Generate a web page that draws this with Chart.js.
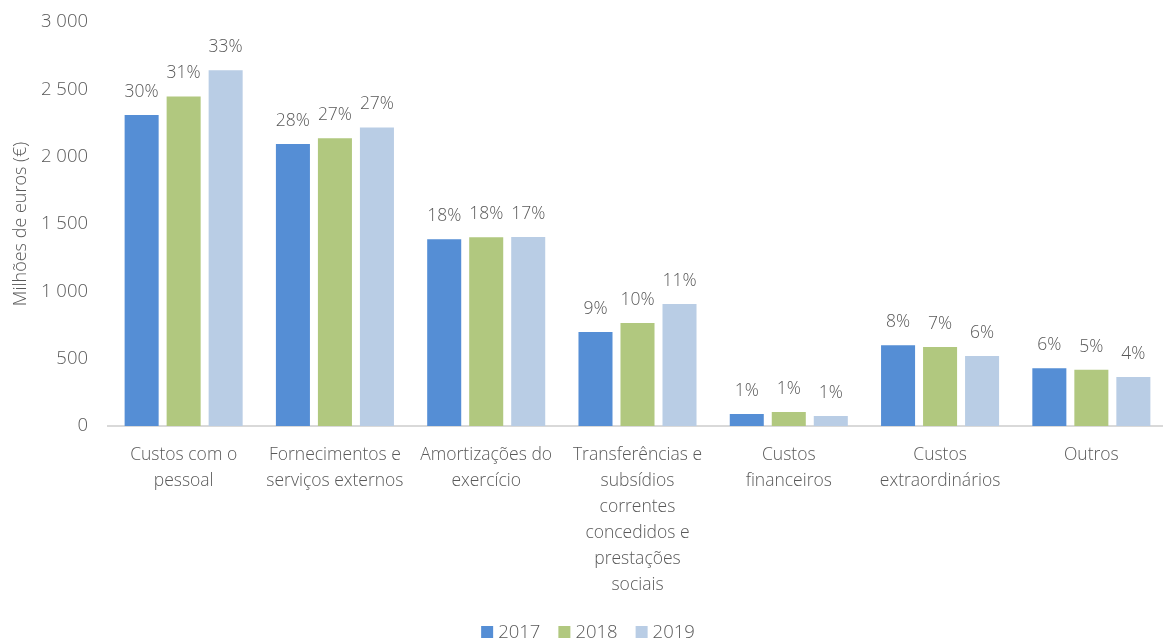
<!DOCTYPE html>
<html>
<head>
<meta charset="utf-8">
<script src="https://cdn.jsdelivr.net/npm/chart.js@4.4.1/dist/chart.umd.min.js"></script>
<style>
  html, body { margin: 0; padding: 0; background: #ffffff; overflow: hidden; }
  #wrap { position: relative; width: 1167px; height: 642px; }
</style>
</head>
<body>
<div id="wrap"><canvas id="chart" width="1167" height="642"></canvas></div>
<script>
// Categorias de custos
const categories = [
  ['Custos com o', 'pessoal'],
  ['Fornecimentos e', 'serviços externos'],
  ['Amortizações do', 'exercício'],
  ['Transferências e', 'subsídios', 'correntes', 'concedidos e', 'prestações', 'sociais'],
  ['Custos', 'financeiros'],
  ['Custos', 'extraordinários'],
  ['Outros']
];

// Valores em milhões de euros
const values2017 = [2309, 2094, 1386, 698, 89, 599, 428];
const values2018 = [2447, 2136, 1401, 765, 104, 586, 418];
const values2019 = [2641, 2217, 1403, 906, 74, 520, 364];

// Peso de cada rubrica no total do ano
const share2017 = ['30%', '28%', '18%', '9%', '1%', '8%', '6%'];
const share2018 = ['31%', '27%', '18%', '10%', '1%', '7%', '5%'];
const share2019 = ['33%', '27%', '17%', '11%', '1%', '6%', '4%'];

const yTicks = [0, 500, 1000, 1500, 2000, 2500, 3000];

const FONT = '"Open Sans", "Segoe UI", sans-serif';
const TEXT = '#595959';

// Percentagens por cima de cada barra
const shareLabels = {
  id: 'shareLabels',
  afterDatasetsDraw(chart) {
    const ctx = chart.ctx;
    ctx.save();
    ctx.font = '300 17.5px ' + FONT;
    ctx.fillStyle = TEXT;
    ctx.textAlign = 'center';
    ctx.textBaseline = 'alphabetic';
    chart.data.datasets.forEach((ds, i) => {
      const meta = chart.getDatasetMeta(i);
      meta.data.forEach((bar, j) => {
        ctx.fillText(ds.shares[j], bar.x, bar.y - 18);
      });
    });
    ctx.restore();
  }
};

// Legenda em linha no fundo
const bottomLegend = {
  id: 'bottomLegend',
  afterDraw(chart) {
    const ctx = chart.ctx;
    ctx.save();
    ctx.font = '300 18.5px ' + FONT;
    ctx.textBaseline = 'middle';
    ctx.textAlign = 'left';
    const box = 12, gapText = 5, gapItem = 18;
    const items = chart.data.datasets.map(ds => ({
      label: ds.label, color: ds.backgroundColor, w: ctx.measureText(ds.label).width
    }));
    let total = 0;
    items.forEach((it, k) => { total += box + gapText + it.w + (k < items.length - 1 ? gapItem : 0); });
    let x = 588 - total / 2;
    const y = 632;
    items.forEach(it => {
      ctx.fillStyle = it.color;
      ctx.fillRect(x, y - box / 2, box, box);
      x += box + gapText;
      ctx.fillStyle = TEXT;
      ctx.fillText(it.label, x, y + 1);
      x += it.w + gapItem;
    });
    ctx.restore();
  }
};

new Chart(document.getElementById('chart'), {
  type: 'bar',
  data: {
    labels: categories,
    datasets: [
      { label: '2017', data: values2017, shares: share2017, backgroundColor: '#558ed5' },
      { label: '2018', data: values2018, shares: share2018, backgroundColor: '#b1c87f' },
      { label: '2019', data: values2019, shares: share2019, backgroundColor: '#b9cde5' }
    ]
  },
  options: {
    responsive: false,
    animation: false,
    devicePixelRatio: 1,
    categoryPercentage: 0.833,
    barPercentage: 0.81,
    layout: { padding: { top: 22, right: 0, left: 0, bottom: 0 } },
    plugins: {
      tooltip: { enabled: false },
      legend: { display: false }
    },
    scales: {
      x: {
        grid: { display: false, drawTicks: false },
        border: { display: true, color: '#d9d9d9', width: 2 },
        ticks: {
          color: TEXT,
          font: { family: FONT, size: 17.5, weight: 300, lineHeight: 1.486 },
          padding: 16,
          maxRotation: 0,
          autoSkip: false
        },
        afterFit(scale) { scale.height = 216; }
      },
      y: {
        min: 0,
        max: 3000,
        grid: { display: false, drawTicks: false },
        border: { display: false },
        afterBuildTicks(scale) { scale.ticks = yTicks.map(v => ({ value: v })); },
        ticks: {
          color: TEXT,
          font: { family: FONT, size: 18.5, weight: 300 },
          padding: 20,
          callback: v => String(v).replace(/\B(?=(\d{3})+(?!\d))/g, ' ')
        },
        title: {
          display: true,
          text: 'Milhões de euros (€)',
          color: TEXT,
          font: { family: FONT, size: 18, weight: 300 },
          padding: { top: 10, bottom: 0 }
        },
        afterFit(scale) {
          scale.width = 108;
          scale.paddingTop = 0;
          scale.paddingBottom = 0;
        }
      }
    }
  },
  plugins: [shareLabels, bottomLegend]
});
</script>
</body>
</html>
